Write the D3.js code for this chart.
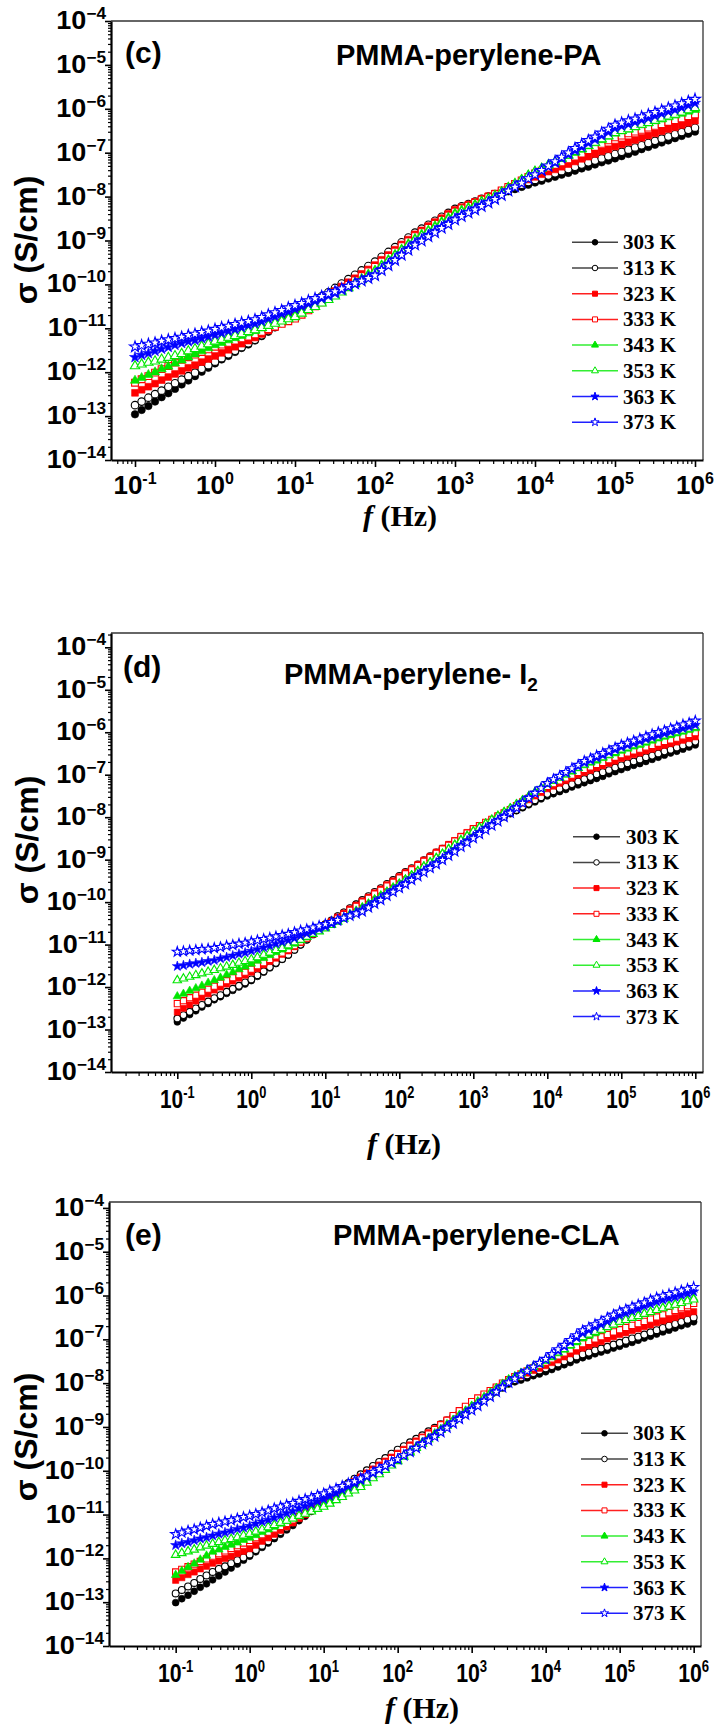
<!DOCTYPE html>
<html>
<head>
<meta charset="utf-8">
<script src="https://cdn.jsdelivr.net/npm/d3@7/dist/d3.min.js"></script>
<style>
  body { margin: 0; background: #fff; }
  svg { display: block; }
  .sans { font-family: "Liberation Sans", Arial, sans-serif; font-weight: bold; fill: #000; }
  .serif { font-family: "Liberation Serif", "Times New Roman", serif; font-weight: bold; fill: #000; }
</style>
</head>
<body>
<svg id="chart" width="715" height="1728"></svg>
<script>
// measurement frequencies (Hz), 12 points per decade
const freqHz = [
  0.1, 0.121, 0.147, 0.178, 0.215, 0.261, 0.316, 0.383, 0.464, 0.562, 0.681, 0.825,
  1, 1.21, 1.47, 1.78, 2.15, 2.61, 3.16, 3.83, 4.64, 5.62, 6.81, 8.25,
  10, 12.1, 14.7, 17.8, 21.5, 26.1, 31.6, 38.3, 46.4, 56.2, 68.1, 82.5,
  100, 121, 147, 178, 215, 261, 316, 383, 464, 562, 681, 825,
  1000, 1210, 1470, 1780, 2150, 2610, 3160, 3830, 4640, 5620, 6810, 8250,
  1e4, 1.21e4, 1.47e4, 1.78e4, 2.15e4, 2.61e4, 3.16e4, 3.83e4, 4.64e4, 5.62e4, 6.81e4, 8.25e4,
  1e5, 1.21e5, 1.47e5, 1.78e5, 2.15e5, 2.61e5, 3.16e5, 3.83e5, 4.64e5, 5.62e5, 6.81e5, 8.25e5,
  1e6
];

const tempLabels = ["303 K", "313 K", "323 K", "333 K", "343 K", "353 K", "363 K", "373 K"];
const yTickExps = [-14, -13, -12, -11, -10, -9, -8, -7, -6, -5, -4];
const xTickExps = [-1, 0, 1, 2, 3, 4, 5, 6];

// log10 of conductivity (S/cm), PMMA-perylene-PA
const paS303 = [-12.96,-12.86,-12.77,-12.67,-12.57,-12.48,-12.38,-12.28,-12.19,-12.09,-11.99,-11.90,-11.80,-11.71,-11.63,-11.54,-11.45,-11.37,-11.28,-11.18,-11.08,-10.98,-10.88,-10.78,-10.68,-10.58,-10.49,-10.39,-10.29,-10.20,-10.10,-10.00,-9.91,-9.81,-9.71,-9.62,-9.52,-9.41,-9.30,-9.19,-9.08,-8.97,-8.86,-8.77,-8.68,-8.60,-8.51,-8.42,-8.33,-8.27,-8.21,-8.16,-8.10,-8.04,-7.98,-7.93,-7.88,-7.83,-7.78,-7.73,-7.68,-7.64,-7.59,-7.55,-7.50,-7.46,-7.41,-7.36,-7.32,-7.27,-7.22,-7.18,-7.13,-7.08,-7.03,-6.98,-6.92,-6.87,-6.82,-6.77,-6.72,-6.67,-6.62,-6.57,-6.52];
const paS313 = [-12.75,-12.67,-12.58,-12.50,-12.42,-12.33,-12.25,-12.17,-12.09,-12.01,-11.92,-11.84,-11.76,-11.68,-11.59,-11.51,-11.43,-11.34,-11.26,-11.16,-11.06,-10.96,-10.86,-10.76,-10.66,-10.56,-10.47,-10.37,-10.27,-10.18,-10.08,-9.98,-9.88,-9.78,-9.68,-9.58,-9.48,-9.37,-9.26,-9.15,-9.04,-8.93,-8.82,-8.73,-8.64,-8.55,-8.46,-8.37,-8.28,-8.22,-8.17,-8.11,-8.05,-8.00,-7.94,-7.89,-7.83,-7.78,-7.73,-7.67,-7.62,-7.57,-7.52,-7.47,-7.42,-7.37,-7.32,-7.27,-7.22,-7.18,-7.13,-7.08,-7.03,-6.98,-6.93,-6.88,-6.83,-6.78,-6.73,-6.68,-6.63,-6.58,-6.53,-6.48,-6.43];
const paS323 = [-12.47,-12.40,-12.33,-12.26,-12.18,-12.11,-12.04,-11.97,-11.90,-11.84,-11.77,-11.70,-11.63,-11.56,-11.49,-11.42,-11.35,-11.28,-11.21,-11.13,-11.05,-10.97,-10.88,-10.80,-10.72,-10.63,-10.53,-10.44,-10.34,-10.25,-10.15,-10.05,-9.95,-9.86,-9.76,-9.66,-9.56,-9.44,-9.33,-9.21,-9.09,-8.98,-8.86,-8.77,-8.67,-8.58,-8.49,-8.39,-8.30,-8.24,-8.18,-8.12,-8.05,-7.99,-7.93,-7.87,-7.80,-7.74,-7.68,-7.61,-7.55,-7.49,-7.43,-7.38,-7.32,-7.26,-7.20,-7.14,-7.09,-7.03,-6.97,-6.92,-6.86,-6.81,-6.76,-6.71,-6.66,-6.61,-6.56,-6.51,-6.46,-6.42,-6.37,-6.32,-6.27];
const paS333 = [-12.24,-12.16,-12.09,-12.01,-11.93,-11.86,-11.78,-11.72,-11.66,-11.60,-11.54,-11.48,-11.42,-11.37,-11.33,-11.28,-11.23,-11.19,-11.14,-11.08,-11.02,-10.96,-10.90,-10.84,-10.78,-10.69,-10.59,-10.50,-10.41,-10.31,-10.22,-10.12,-10.01,-9.91,-9.81,-9.70,-9.60,-9.48,-9.37,-9.25,-9.13,-9.02,-8.90,-8.81,-8.71,-8.62,-8.53,-8.43,-8.34,-8.27,-8.21,-8.14,-8.07,-8.01,-7.94,-7.86,-7.78,-7.71,-7.63,-7.55,-7.47,-7.41,-7.34,-7.28,-7.22,-7.15,-7.09,-7.02,-6.94,-6.87,-6.80,-6.72,-6.65,-6.61,-6.56,-6.52,-6.48,-6.43,-6.39,-6.35,-6.30,-6.26,-6.22,-6.17,-6.13];
const paS343 = [-12.19,-12.13,-12.06,-12.00,-11.93,-11.87,-11.80,-11.73,-11.66,-11.59,-11.52,-11.45,-11.38,-11.33,-11.27,-11.22,-11.17,-11.11,-11.06,-11.00,-10.94,-10.88,-10.82,-10.76,-10.70,-10.62,-10.55,-10.47,-10.39,-10.32,-10.24,-10.15,-10.05,-9.96,-9.87,-9.77,-9.68,-9.56,-9.44,-9.32,-9.20,-9.08,-8.96,-8.86,-8.77,-8.67,-8.57,-8.48,-8.38,-8.31,-8.25,-8.18,-8.11,-8.05,-7.98,-7.89,-7.80,-7.71,-7.61,-7.52,-7.43,-7.36,-7.29,-7.22,-7.14,-7.07,-7.00,-6.93,-6.85,-6.78,-6.71,-6.63,-6.56,-6.51,-6.47,-6.42,-6.37,-6.33,-6.28,-6.24,-6.19,-6.15,-6.11,-6.06,-6.02];
const paS353 = [-11.86,-11.82,-11.78,-11.75,-11.71,-11.67,-11.63,-11.58,-11.52,-11.47,-11.41,-11.36,-11.30,-11.26,-11.21,-11.17,-11.13,-11.08,-11.04,-10.99,-10.94,-10.89,-10.84,-10.79,-10.74,-10.66,-10.58,-10.51,-10.43,-10.35,-10.27,-10.18,-10.08,-9.99,-9.90,-9.80,-9.71,-9.59,-9.47,-9.35,-9.23,-9.11,-8.99,-8.90,-8.80,-8.71,-8.61,-8.52,-8.42,-8.35,-8.28,-8.21,-8.13,-8.06,-7.99,-7.90,-7.80,-7.71,-7.62,-7.52,-7.43,-7.36,-7.28,-7.21,-7.13,-7.06,-6.98,-6.91,-6.84,-6.77,-6.69,-6.62,-6.55,-6.50,-6.46,-6.41,-6.36,-6.32,-6.27,-6.22,-6.17,-6.13,-6.08,-6.03,-5.98];
const paS363 = [-11.66,-11.61,-11.57,-11.52,-11.47,-11.43,-11.38,-11.34,-11.30,-11.27,-11.23,-11.19,-11.15,-11.11,-11.06,-11.02,-10.98,-10.93,-10.89,-10.84,-10.78,-10.73,-10.67,-10.62,-10.56,-10.50,-10.44,-10.38,-10.32,-10.26,-10.20,-10.13,-10.06,-9.99,-9.91,-9.84,-9.77,-9.65,-9.53,-9.42,-9.30,-9.18,-9.06,-8.97,-8.87,-8.78,-8.69,-8.59,-8.50,-8.42,-8.35,-8.27,-8.19,-8.12,-8.04,-7.95,-7.86,-7.77,-7.68,-7.59,-7.50,-7.41,-7.32,-7.23,-7.13,-7.04,-6.95,-6.87,-6.78,-6.70,-6.61,-6.53,-6.44,-6.39,-6.35,-6.30,-6.25,-6.21,-6.16,-6.11,-6.06,-6.02,-5.97,-5.92,-5.87];
const paS373 = [-11.42,-11.39,-11.36,-11.33,-11.29,-11.26,-11.23,-11.20,-11.16,-11.13,-11.09,-11.06,-11.02,-10.98,-10.95,-10.91,-10.87,-10.84,-10.80,-10.75,-10.69,-10.64,-10.59,-10.53,-10.48,-10.43,-10.37,-10.32,-10.27,-10.21,-10.16,-10.10,-10.04,-9.98,-9.92,-9.86,-9.80,-9.68,-9.57,-9.45,-9.33,-9.22,-9.10,-9.01,-8.91,-8.82,-8.72,-8.63,-8.53,-8.45,-8.37,-8.30,-8.22,-8.14,-8.06,-7.97,-7.87,-7.78,-7.69,-7.59,-7.50,-7.40,-7.30,-7.20,-7.10,-7.00,-6.90,-6.81,-6.72,-6.64,-6.55,-6.46,-6.37,-6.32,-6.27,-6.23,-6.18,-6.13,-6.08,-6.03,-5.98,-5.93,-5.88,-5.83,-5.78];

// log10 of conductivity (S/cm), PMMA-perylene-I2
const iodS303 = [-12.82,-12.73,-12.65,-12.56,-12.47,-12.39,-12.30,-12.23,-12.15,-12.08,-12.00,-11.93,-11.85,-11.75,-11.65,-11.55,-11.45,-11.35,-11.25,-11.13,-11.01,-10.89,-10.76,-10.64,-10.52,-10.43,-10.33,-10.24,-10.15,-10.05,-9.96,-9.87,-9.77,-9.68,-9.59,-9.49,-9.40,-9.31,-9.22,-9.13,-9.03,-8.94,-8.85,-8.77,-8.68,-8.60,-8.51,-8.43,-8.34,-8.27,-8.20,-8.13,-8.06,-7.99,-7.92,-7.85,-7.78,-7.71,-7.64,-7.57,-7.50,-7.45,-7.40,-7.35,-7.29,-7.24,-7.19,-7.14,-7.09,-7.04,-6.98,-6.93,-6.88,-6.83,-6.78,-6.74,-6.69,-6.64,-6.59,-6.54,-6.49,-6.45,-6.40,-6.35,-6.30];
const iodS313 = [-12.74,-12.66,-12.58,-12.50,-12.42,-12.34,-12.26,-12.19,-12.11,-12.04,-11.97,-11.89,-11.82,-11.72,-11.63,-11.53,-11.43,-11.34,-11.24,-11.12,-11.00,-10.88,-10.76,-10.64,-10.52,-10.43,-10.33,-10.24,-10.14,-10.05,-9.95,-9.86,-9.76,-9.67,-9.57,-9.48,-9.38,-9.29,-9.20,-9.11,-9.01,-8.92,-8.83,-8.74,-8.66,-8.57,-8.48,-8.40,-8.31,-8.24,-8.17,-8.11,-8.04,-7.97,-7.90,-7.83,-7.75,-7.68,-7.60,-7.53,-7.45,-7.39,-7.33,-7.28,-7.22,-7.16,-7.10,-7.05,-6.99,-6.94,-6.89,-6.83,-6.78,-6.73,-6.69,-6.64,-6.59,-6.55,-6.50,-6.45,-6.41,-6.36,-6.31,-6.27,-6.22];
const iodS323 = [-12.59,-12.50,-12.42,-12.33,-12.24,-12.16,-12.07,-12.00,-11.93,-11.86,-11.79,-11.72,-11.65,-11.57,-11.48,-11.40,-11.32,-11.23,-11.15,-11.05,-10.95,-10.85,-10.74,-10.64,-10.54,-10.45,-10.35,-10.26,-10.16,-10.07,-9.97,-9.88,-9.78,-9.69,-9.59,-9.50,-9.40,-9.30,-9.21,-9.11,-9.01,-8.92,-8.82,-8.73,-8.64,-8.55,-8.45,-8.36,-8.27,-8.20,-8.13,-8.06,-7.98,-7.91,-7.84,-7.76,-7.67,-7.59,-7.50,-7.42,-7.33,-7.27,-7.20,-7.14,-7.08,-7.01,-6.95,-6.90,-6.84,-6.79,-6.73,-6.68,-6.62,-6.58,-6.53,-6.49,-6.44,-6.40,-6.35,-6.31,-6.27,-6.23,-6.19,-6.15,-6.11];
const iodS333 = [-12.39,-12.32,-12.25,-12.19,-12.12,-12.05,-11.98,-11.91,-11.85,-11.78,-11.71,-11.65,-11.58,-11.50,-11.43,-11.35,-11.27,-11.20,-11.12,-11.03,-10.94,-10.85,-10.75,-10.66,-10.57,-10.48,-10.38,-10.29,-10.19,-10.10,-10.00,-9.91,-9.81,-9.72,-9.62,-9.53,-9.43,-9.33,-9.24,-9.14,-9.04,-8.95,-8.85,-8.75,-8.66,-8.56,-8.46,-8.37,-8.27,-8.20,-8.12,-8.05,-7.97,-7.90,-7.82,-7.73,-7.64,-7.55,-7.46,-7.37,-7.28,-7.21,-7.15,-7.08,-7.01,-6.95,-6.88,-6.82,-6.76,-6.71,-6.65,-6.59,-6.53,-6.49,-6.44,-6.40,-6.35,-6.31,-6.26,-6.22,-6.18,-6.14,-6.09,-6.05,-6.01];
const iodS343 = [-12.22,-12.16,-12.09,-12.03,-11.97,-11.90,-11.84,-11.78,-11.71,-11.65,-11.58,-11.52,-11.45,-11.38,-11.32,-11.25,-11.18,-11.12,-11.05,-10.98,-10.90,-10.83,-10.75,-10.68,-10.60,-10.52,-10.44,-10.36,-10.28,-10.20,-10.12,-10.03,-9.93,-9.84,-9.75,-9.65,-9.56,-9.46,-9.36,-9.26,-9.15,-9.05,-8.95,-8.85,-8.74,-8.64,-8.53,-8.43,-8.32,-8.23,-8.14,-8.05,-7.96,-7.87,-7.78,-7.69,-7.59,-7.50,-7.41,-7.31,-7.22,-7.15,-7.07,-7.00,-6.93,-6.85,-6.78,-6.72,-6.67,-6.61,-6.55,-6.50,-6.44,-6.39,-6.34,-6.30,-6.25,-6.20,-6.15,-6.11,-6.07,-6.03,-5.99,-5.95,-5.91];
const iodS353 = [-11.84,-11.80,-11.76,-11.72,-11.68,-11.64,-11.60,-11.56,-11.52,-11.48,-11.43,-11.39,-11.35,-11.30,-11.24,-11.19,-11.13,-11.08,-11.02,-10.95,-10.89,-10.82,-10.75,-10.69,-10.62,-10.54,-10.46,-10.39,-10.31,-10.23,-10.15,-10.06,-9.96,-9.87,-9.77,-9.68,-9.58,-9.48,-9.38,-9.28,-9.17,-9.07,-8.97,-8.87,-8.76,-8.66,-8.55,-8.45,-8.34,-8.25,-8.16,-8.07,-7.98,-7.89,-7.80,-7.70,-7.61,-7.51,-7.41,-7.32,-7.22,-7.14,-7.07,-6.99,-6.91,-6.84,-6.76,-6.70,-6.64,-6.59,-6.53,-6.47,-6.41,-6.36,-6.31,-6.27,-6.22,-6.17,-6.12,-6.08,-6.04,-6.00,-5.96,-5.92,-5.88];
const iodS363 = [-11.51,-11.49,-11.46,-11.44,-11.42,-11.39,-11.37,-11.33,-11.30,-11.26,-11.22,-11.19,-11.15,-11.11,-11.07,-11.03,-10.98,-10.94,-10.90,-10.85,-10.79,-10.74,-10.69,-10.63,-10.58,-10.51,-10.45,-10.38,-10.31,-10.25,-10.18,-10.09,-10.00,-9.91,-9.81,-9.72,-9.63,-9.54,-9.44,-9.35,-9.26,-9.16,-9.07,-8.97,-8.86,-8.76,-8.66,-8.55,-8.45,-8.35,-8.25,-8.16,-8.06,-7.96,-7.86,-7.75,-7.64,-7.53,-7.42,-7.31,-7.20,-7.12,-7.04,-6.96,-6.88,-6.80,-6.72,-6.66,-6.60,-6.54,-6.47,-6.41,-6.35,-6.30,-6.26,-6.21,-6.16,-6.12,-6.07,-6.03,-5.99,-5.95,-5.91,-5.87,-5.83];
const iodS373 = [-11.17,-11.16,-11.14,-11.13,-11.11,-11.10,-11.08,-11.06,-11.03,-11.01,-10.98,-10.96,-10.93,-10.90,-10.87,-10.84,-10.81,-10.78,-10.75,-10.71,-10.67,-10.64,-10.60,-10.56,-10.52,-10.47,-10.42,-10.37,-10.32,-10.27,-10.22,-10.13,-10.04,-9.95,-9.85,-9.76,-9.67,-9.58,-9.48,-9.39,-9.30,-9.20,-9.11,-9.01,-8.91,-8.81,-8.70,-8.60,-8.50,-8.40,-8.30,-8.20,-8.10,-8.00,-7.90,-7.78,-7.67,-7.55,-7.43,-7.32,-7.20,-7.11,-7.03,-6.94,-6.85,-6.77,-6.68,-6.62,-6.55,-6.49,-6.43,-6.36,-6.30,-6.25,-6.20,-6.15,-6.10,-6.05,-6.00,-5.96,-5.91,-5.87,-5.82,-5.78,-5.73];

// log10 of conductivity (S/cm), PMMA-perylene-CLA
const claS303 = [-13.01,-12.92,-12.84,-12.75,-12.66,-12.58,-12.49,-12.40,-12.31,-12.22,-12.13,-12.04,-11.95,-11.85,-11.75,-11.65,-11.55,-11.45,-11.35,-11.25,-11.14,-11.04,-10.93,-10.83,-10.72,-10.62,-10.51,-10.41,-10.31,-10.20,-10.10,-10.01,-9.92,-9.83,-9.73,-9.64,-9.55,-9.47,-9.38,-9.30,-9.22,-9.13,-9.05,-8.97,-8.89,-8.81,-8.72,-8.64,-8.56,-8.47,-8.38,-8.29,-8.20,-8.11,-8.02,-7.97,-7.93,-7.88,-7.83,-7.79,-7.74,-7.69,-7.63,-7.58,-7.53,-7.47,-7.42,-7.38,-7.33,-7.29,-7.25,-7.20,-7.16,-7.11,-7.07,-7.02,-6.97,-6.93,-6.88,-6.83,-6.79,-6.74,-6.69,-6.65,-6.60];
const claS313 = [-12.80,-12.72,-12.64,-12.56,-12.47,-12.39,-12.31,-12.24,-12.18,-12.11,-12.04,-11.98,-11.91,-11.81,-11.71,-11.61,-11.50,-11.40,-11.30,-11.20,-11.09,-10.99,-10.89,-10.78,-10.68,-10.58,-10.48,-10.38,-10.28,-10.18,-10.08,-9.99,-9.89,-9.80,-9.71,-9.61,-9.52,-9.44,-9.35,-9.27,-9.19,-9.10,-9.02,-8.94,-8.85,-8.77,-8.69,-8.60,-8.52,-8.43,-8.34,-8.25,-8.16,-8.07,-7.98,-7.93,-7.87,-7.82,-7.77,-7.71,-7.66,-7.61,-7.55,-7.50,-7.45,-7.39,-7.34,-7.30,-7.25,-7.21,-7.17,-7.12,-7.08,-7.03,-6.98,-6.94,-6.89,-6.84,-6.79,-6.74,-6.69,-6.65,-6.60,-6.55,-6.50];
const claS323 = [-12.50,-12.44,-12.37,-12.31,-12.24,-12.18,-12.11,-12.06,-12.00,-11.95,-11.89,-11.84,-11.78,-11.70,-11.61,-11.53,-11.45,-11.36,-11.28,-11.19,-11.09,-11.00,-10.91,-10.81,-10.72,-10.62,-10.53,-10.43,-10.33,-10.24,-10.14,-10.05,-9.96,-9.87,-9.78,-9.69,-9.60,-9.51,-9.41,-9.32,-9.23,-9.13,-9.04,-8.94,-8.84,-8.75,-8.65,-8.55,-8.45,-8.37,-8.28,-8.20,-8.11,-8.03,-7.94,-7.88,-7.83,-7.77,-7.71,-7.66,-7.60,-7.53,-7.47,-7.40,-7.33,-7.27,-7.20,-7.15,-7.10,-7.05,-6.99,-6.94,-6.89,-6.85,-6.80,-6.76,-6.71,-6.67,-6.62,-6.58,-6.54,-6.50,-6.45,-6.41,-6.37];
const claS333 = [-12.31,-12.25,-12.19,-12.13,-12.07,-12.01,-11.95,-11.89,-11.83,-11.77,-11.71,-11.65,-11.59,-11.53,-11.46,-11.40,-11.33,-11.27,-11.20,-11.12,-11.05,-10.97,-10.89,-10.82,-10.74,-10.65,-10.55,-10.46,-10.37,-10.27,-10.18,-10.09,-10.00,-9.91,-9.81,-9.72,-9.63,-9.54,-9.44,-9.35,-9.25,-9.16,-9.06,-8.95,-8.85,-8.74,-8.63,-8.53,-8.42,-8.34,-8.25,-8.17,-8.09,-8.00,-7.92,-7.85,-7.79,-7.72,-7.65,-7.59,-7.52,-7.45,-7.38,-7.31,-7.24,-7.17,-7.10,-7.05,-6.99,-6.94,-6.89,-6.83,-6.78,-6.73,-6.68,-6.64,-6.59,-6.54,-6.49,-6.44,-6.39,-6.34,-6.28,-6.23,-6.18];
const claS343 = [-12.38,-12.29,-12.20,-12.12,-12.03,-11.94,-11.85,-11.80,-11.74,-11.69,-11.64,-11.58,-11.53,-11.47,-11.40,-11.34,-11.28,-11.21,-11.15,-11.09,-11.03,-10.97,-10.90,-10.84,-10.78,-10.70,-10.63,-10.55,-10.47,-10.40,-10.32,-10.23,-10.13,-10.04,-9.94,-9.85,-9.75,-9.65,-9.55,-9.45,-9.35,-9.25,-9.15,-9.05,-8.94,-8.84,-8.73,-8.63,-8.52,-8.42,-8.32,-8.22,-8.12,-8.02,-7.92,-7.85,-7.78,-7.71,-7.63,-7.56,-7.49,-7.41,-7.32,-7.24,-7.15,-7.07,-6.98,-6.92,-6.86,-6.80,-6.73,-6.67,-6.61,-6.56,-6.51,-6.47,-6.42,-6.37,-6.32,-6.28,-6.23,-6.19,-6.15,-6.10,-6.06];
const claS353 = [-11.92,-11.88,-11.84,-11.80,-11.75,-11.71,-11.67,-11.63,-11.59,-11.56,-11.52,-11.48,-11.44,-11.39,-11.34,-11.29,-11.24,-11.19,-11.14,-11.09,-11.03,-10.98,-10.93,-10.87,-10.82,-10.75,-10.67,-10.60,-10.52,-10.45,-10.37,-10.27,-10.17,-10.08,-9.98,-9.88,-9.78,-9.68,-9.58,-9.48,-9.38,-9.28,-9.18,-9.07,-8.97,-8.86,-8.75,-8.65,-8.54,-8.44,-8.34,-8.24,-8.13,-8.03,-7.93,-7.86,-7.78,-7.71,-7.63,-7.56,-7.48,-7.39,-7.30,-7.22,-7.13,-7.04,-6.95,-6.89,-6.83,-6.78,-6.72,-6.66,-6.60,-6.56,-6.51,-6.47,-6.42,-6.38,-6.33,-6.29,-6.25,-6.21,-6.17,-6.13,-6.09];
const claS363 = [-11.70,-11.66,-11.63,-11.59,-11.55,-11.52,-11.48,-11.44,-11.41,-11.37,-11.33,-11.30,-11.26,-11.21,-11.16,-11.12,-11.07,-11.02,-10.97,-10.92,-10.86,-10.81,-10.76,-10.70,-10.65,-10.58,-10.51,-10.44,-10.36,-10.29,-10.22,-10.14,-10.06,-9.98,-9.90,-9.82,-9.74,-9.65,-9.56,-9.47,-9.37,-9.28,-9.19,-9.09,-8.99,-8.89,-8.78,-8.68,-8.58,-8.48,-8.38,-8.28,-8.17,-8.07,-7.97,-7.89,-7.80,-7.72,-7.63,-7.55,-7.46,-7.36,-7.26,-7.16,-7.06,-6.96,-6.86,-6.79,-6.72,-6.66,-6.59,-6.52,-6.45,-6.40,-6.35,-6.30,-6.24,-6.19,-6.14,-6.10,-6.06,-6.03,-5.99,-5.95,-5.91];
const claS373 = [-11.45,-11.41,-11.37,-11.34,-11.30,-11.26,-11.22,-11.19,-11.16,-11.13,-11.09,-11.06,-11.03,-10.99,-10.95,-10.91,-10.86,-10.82,-10.78,-10.74,-10.69,-10.65,-10.61,-10.56,-10.52,-10.46,-10.41,-10.35,-10.29,-10.24,-10.18,-10.11,-10.03,-9.96,-9.89,-9.81,-9.74,-9.65,-9.57,-9.48,-9.39,-9.31,-9.22,-9.12,-9.02,-8.92,-8.82,-8.72,-8.62,-8.52,-8.41,-8.31,-8.20,-8.10,-7.99,-7.90,-7.81,-7.72,-7.63,-7.54,-7.45,-7.34,-7.23,-7.13,-7.02,-6.91,-6.80,-6.73,-6.66,-6.59,-6.51,-6.44,-6.37,-6.32,-6.26,-6.21,-6.16,-6.10,-6.05,-6.01,-5.97,-5.93,-5.89,-5.85,-5.81];

// marker style per temperature
const seriesColor = ["#000000", "#000000", "#ff0000", "#ff0000", "#00e600", "#00e600", "#0000ff", "#0000ff"];
const legendLineColor = ["#444444", "#444444", "#ff2020", "#ff2020", "#33ee33", "#33ee33", "#2020ff", "#2020ff"];
const seriesShape = [d3.symbolCircle, d3.symbolCircle, d3.symbolSquare, d3.symbolSquare,
                     d3.symbolTriangle, d3.symbolTriangle, d3.symbolStar, d3.symbolStar];
const shapeSize = [44, 44, 46, 46, 38, 38, 38, 38];
const seriesOpen = [false, true, false, true, false, true, false, true];

const panels = [
  { tag: "(c)", title: "PMMA-perylene-PA", sub: null, data: [paS303, paS313, paS323, paS333, paS343, paS353, paS363, paS373],
    left: 111, right: 703, top: 21, bottom: 460, xDom: [-1.3, 6.1], yDom: [-14, -4],
    tagPos: [125, 63], titlePos: [336, 65], yTitle: [37, 240], xTitle: [400, 526],
    xLabBase: 494, xsx: 1.0, ysx: 1.08, legend: [572, 618, 623, 242.3], mk: 1.0 },
  { tag: "(d)", title: "PMMA-perylene- I", sub: "2", data: [iodS303, iodS313, iodS323, iodS333, iodS343, iodS353, iodS363, iodS373],
    left: 111, right: 703, top: 633, bottom: 1072, xDom: [-1.896, 6.104], yDom: [-14, -3.663],
    tagPos: [123, 677], titlePos: [284, 684], yTitle: [38, 840], xTitle: [404, 1154],
    xLabBase: 1108, xsx: 0.8, ysx: 1.08, legend: [573, 620, 626, 836.7], mk: 0.9 },
  { tag: "(e)", title: "PMMA-perylene-CLA", sub: null, data: [claS303, claS313, claS323, claS333, claS343, claS353, claS363, claS373],
    left: 109, right: 701, top: 1202, bottom: 1646, xDom: [-1.901, 6.099], yDom: [-14, -3.865],
    tagPos: [125, 1245], titlePos: [333, 1245], yTitle: [37, 1437], xTitle: [422, 1718],
    xLabBase: 1682, xsx: 0.82, ysx: 1.08, legend: [581, 628, 633, 1433.3], mk: 0.92 }
];

const svg = d3.select("#chart");

function minorTicks(lo, hi) {
  const out = [];
  for (let e = Math.floor(lo); e <= Math.ceil(hi); e++) {
    for (let k = 2; k <= 9; k++) {
      const v = k * Math.pow(10, e);
      if (Math.log10(v) > lo && Math.log10(v) < hi) out.push(v);
    }
  }
  return out;
}

function powerText(g, x, y, exp, anchor, sx, big, small, raise, minus) {
  const t = g.append("text").attr("class", "sans")
    .attr("transform", `translate(${x},${y}) scale(${sx},1)`)
    .attr("text-anchor", anchor);
  t.append("tspan").attr("font-size", big).text("10");
  t.append("tspan").attr("font-size", small).attr("dy", -raise)
    .text(exp < 0 ? minus + Math.abs(exp) : String(exp));
}

panels.forEach(p => {
  const x = d3.scaleLog().domain([Math.pow(10, p.xDom[0]), Math.pow(10, p.xDom[1])]).range([p.left, p.right]);
  const y = d3.scaleLog().domain([Math.pow(10, p.yDom[0]), Math.pow(10, p.yDom[1])]).range([p.bottom, p.top]);
  const g = svg.append("g");

  // thin top / right frame
  g.append("line").attr("x1", p.left).attr("x2", p.right).attr("y1", p.top).attr("y2", p.top)
    .attr("stroke", "#333").attr("stroke-width", 1.3);
  g.append("line").attr("x1", p.right).attr("x2", p.right).attr("y1", p.top).attr("y2", p.bottom)
    .attr("stroke", "#333").attr("stroke-width", 1.3);

  // y axis
  const yMajor = yTickExps.map(e => Math.pow(10, e));
  const yAx = g.append("g").attr("transform", `translate(${p.left},0)`)
    .call(d3.axisLeft(y).tickValues(yMajor).tickSize(6).tickSizeOuter(0).tickFormat(""));
  yAx.select(".domain").attr("stroke-width", 2.2);
  yAx.selectAll(".tick line").attr("stroke-width", 1.6);
  const yMin = g.append("g").attr("transform", `translate(${p.left},0)`)
    .call(d3.axisLeft(y).tickValues(minorTicks(p.yDom[0], p.yDom[1])).tickSize(3).tickFormat(""));
  yMin.select(".domain").remove();
  yMin.selectAll(".tick line").attr("stroke-width", 1.2);

  // x axis
  const xMajor = xTickExps.map(e => Math.pow(10, e));
  const xAx = g.append("g").attr("transform", `translate(0,${p.bottom})`)
    .call(d3.axisBottom(x).tickValues(xMajor).tickSize(7).tickSizeOuter(0).tickFormat(""));
  xAx.select(".domain").attr("stroke-width", 2.2);
  xAx.selectAll(".tick line").attr("stroke-width", 1.6);
  const xMin = g.append("g").attr("transform", `translate(0,${p.bottom})`)
    .call(d3.axisBottom(x).tickValues(minorTicks(p.xDom[0], p.xDom[1])).tickSize(4).tickFormat(""));
  xMin.select(".domain").remove();
  xMin.selectAll(".tick line").attr("stroke-width", 1.2);

  // tick labels
  yTickExps.forEach(e => powerText(g, p.left - 5, y(Math.pow(10, e)) + 8, e, "end", p.ysx, 25, 16, 10, "\u2212"));
  xTickExps.forEach(e => powerText(g, x(Math.pow(10, e)), p.xLabBase, e, "middle", p.xsx, 26, 16, 10, "-"));

  // axis titles
  g.append("text").attr("class", "sans").attr("font-size", 32)
    .attr("transform", `translate(${p.yTitle[0]},${p.yTitle[1]}) rotate(-90)`)
    .attr("text-anchor", "middle").text("\u03c3 (S/cm)");
  const xt = g.append("text").attr("class", "serif").attr("font-size", 30)
    .attr("x", p.xTitle[0]).attr("y", p.xTitle[1]).attr("text-anchor", "middle");
  xt.append("tspan").attr("font-style", "italic").text("f");
  xt.append("tspan").text(" (Hz)");

  // panel tag + title
  g.append("text").attr("class", "sans").attr("font-size", 30)
    .attr("x", p.tagPos[0]).attr("y", p.tagPos[1]).text(p.tag);
  const tt = g.append("text").attr("class", "sans").attr("font-size", 29)
    .attr("x", p.titlePos[0]).attr("y", p.titlePos[1]);
  tt.append("tspan").text(p.title);
  if (p.sub) tt.append("tspan").attr("font-size", 19).attr("dy", 7).text(p.sub);

  // data markers
  p.data.forEach((vals, i) => {
    const sym = d3.symbol().type(seriesShape[i]).size(shapeSize[i] * p.mk * p.mk);
    g.append("g").selectAll("path")
      .data(vals.map((v, j) => [freqHz[j], Math.pow(10, v)]))
      .join("path")
      .attr("d", sym)
      .attr("transform", d => `translate(${x(d[0])},${y(d[1])})`)
      .attr("fill", seriesOpen[i] ? "#fff" : seriesColor[i])
      .attr("stroke", seriesColor[i])
      .attr("stroke-width", seriesOpen[i] ? 1.1 : 0.6);
  });

  // legend
  const [lx1, lx2, tx, ly0] = p.legend;
  tempLabels.forEach((lab, i) => {
    const ly = ly0 + i * 25.7;
    g.append("line").attr("x1", lx1).attr("x2", lx2).attr("y1", ly).attr("y2", ly)
      .attr("stroke", legendLineColor[i]).attr("stroke-width", 1.5);
    g.append("path").attr("d", d3.symbol().type(seriesShape[i]).size(shapeSize[i] * 0.55))
      .attr("transform", `translate(${(lx1 + lx2) / 2},${ly})`)
      .attr("fill", seriesOpen[i] ? "#fff" : seriesColor[i])
      .attr("stroke", seriesColor[i]).attr("stroke-width", 1);
    g.append("text").attr("class", "serif").attr("font-size", 21)
      .attr("x", tx).attr("y", ly + 7).text(lab);
  });
});
</script>
</body>
</html>
